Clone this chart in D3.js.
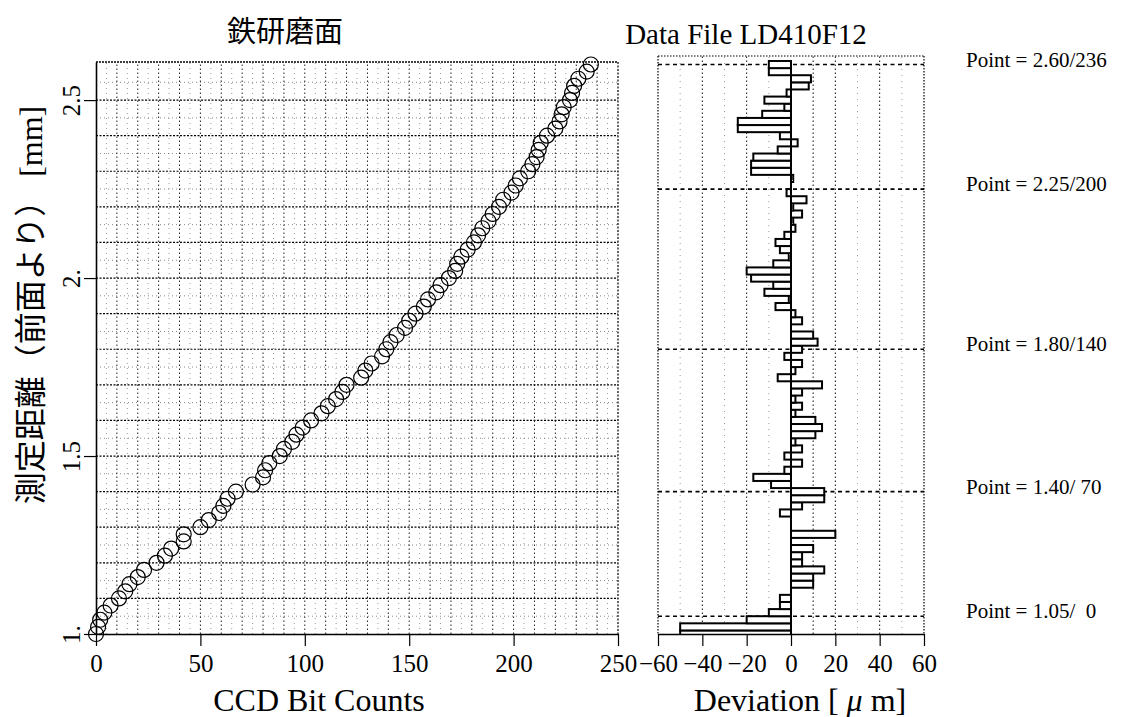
<!DOCTYPE html>
<html>
<head>
<meta charset="utf-8">
<script src="https://cdn.jsdelivr.net/npm/d3@7"></script>
<style>
  body { margin: 0; background: #fff; }
  svg { display: block; }
  text { font-family: "Liberation Serif", "Times New Roman", serif; fill: #000; }
  .jp { font-family: "Noto Sans CJK JP", sans-serif; }
</style>
</head>
<body>
<svg id="chart" width="1127" height="717"></svg>
<script>
// measured distance [mm], one step per bar
const distances = [
  1.00, 1.02, 1.04, 1.06, 1.08, 1.10, 1.12, 1.14, 1.16, 1.18,
  1.20, 1.22, 1.24, 1.26, 1.28, 1.30, 1.32, 1.34, 1.36, 1.38,
  1.40, 1.42, 1.44, 1.46, 1.48, 1.50, 1.52, 1.54, 1.56, 1.58,
  1.60, 1.62, 1.64, 1.66, 1.68, 1.70, 1.72, 1.74, 1.76, 1.78,
  1.80, 1.82, 1.84, 1.86, 1.88, 1.90, 1.92, 1.94, 1.96, 1.98,
  2.00, 2.02, 2.04, 2.06, 2.08, 2.10, 2.12, 2.14, 2.16, 2.18,
  2.20, 2.22, 2.24, 2.26, 2.28, 2.30, 2.32, 2.34, 2.36, 2.38,
  2.40, 2.42, 2.44, 2.46, 2.48, 2.50, 2.52, 2.54, 2.56, 2.58,
  2.60
];

// CCD bit count for each distance
const bitCounts = [
  0, 1, 2, 4, 7, 11, 14, 16, 20, 23,
  29, 33, 36, 42, 42, 50, 54, 59, 61, 63,
  67, 75, 80, 81, 83, 88, 90, 94, 96, 99,
  103, 108, 111, 115, 118, 120, 127, 129, 132, 137,
  139, 141, 144, 148, 150, 153, 157, 159, 163, 165,
  169, 172, 173, 175, 178, 181, 183, 185, 188, 190,
  193, 195, 199, 201, 203, 207, 209, 211, 212, 213,
  216, 220, 222, 223, 224, 227, 228, 229, 231, 235,
  237
];

// deviation [um] for each distance
const deviations = [
  -50, -50, -20, -10, -5, -5, 0, 10, 10, 15,
  5, 5, 10, 0, 20, 0, 0, -5, 5, 15,
  15, -9, -17, -3, 5, -3, 5, 2, 11, 14,
  11, 2, 5, 2, 5, 14, -6, 2, 5, -3,
  5, 12, 10, 0, 5, 2, -7, -1, -12, -8,
  -18, -20, -8, -1, -5, -7, -3, 2, 1, 5,
  1, 7, -2, 0, 1, -18, -18, -17, -6, 3,
  -5, -24, -24, -13, -3, -12, -2, 8, 9, -10,
  -10
];

const calibPoints = [2.60, 2.25, 1.80, 1.40, 1.05];
const calibLabels = ['Point = 2.60/236', 'Point = 2.25/200', 'Point = 1.80/140', 'Point = 1.40/ 70', 'Point = 1.05/  0'];

const xTicks = [0, 50, 100, 150, 200, 250];
const yTicks = [1, 1.5, 2, 2.5];
const yTickLabels = ['1.', '1.5', '2.', '2.5'];
const devTicks = [-60, -40, -20, 0, 20, 40, 60];

const svg = d3.select('#chart');

// scales
const x = d3.scaleLinear().domain([0, 250]).range([96, 618]);
const y = d3.scaleLinear().domain([1, 2.607]).range([634, 62]);
const xd = d3.scaleLinear().domain([-60, 60]).range([658, 924]);
const yd = d3.scaleLinear().domain([1, 2.624]).range([634, 56]);

/* ---------- left panel ---------- */
const gL = svg.append('g');

// minor grid
gL.append('g').selectAll('line')
  .data(d3.range(5, 250, 10))
  .join('line')
  .attr('x1', d => x(d)).attr('x2', d => x(d))
  .attr('y1', y.range()[0]).attr('y2', y.range()[1])
  .attr('stroke', '#999').attr('stroke-width', 1).attr('stroke-dasharray', '1,4');
gL.append('g').selectAll('line')
  .data(d3.range(1.05, 2.6, 0.1))
  .join('line')
  .attr('x1', x(0)).attr('x2', x(250))
  .attr('y1', d => y(d)).attr('y2', d => y(d))
  .attr('stroke', '#888').attr('stroke-width', 1).attr('stroke-dasharray', '1,3');

// major grid
gL.append('g').selectAll('line')
  .data(d3.range(10, 250, 10))
  .join('line')
  .attr('x1', d => x(d)).attr('x2', d => x(d))
  .attr('y1', y.range()[0]).attr('y2', y.range()[1])
  .attr('stroke', '#222').attr('stroke-width', 1).attr('stroke-dasharray', '1.5,2.5');
gL.append('g').selectAll('line')
  .data(d3.range(1.1, 2.6, 0.1))
  .join('line')
  .attr('x1', x(0)).attr('x2', x(250))
  .attr('y1', d => y(d)).attr('y2', d => y(d))
  .attr('stroke', '#000').attr('stroke-width', 1.2).attr('stroke-dasharray', '2,1.5');

// frame top / right
gL.append('line')
  .attr('x1', x(0)).attr('x2', x(250)).attr('y1', y.range()[1]).attr('y2', y.range()[1])
  .attr('stroke', '#000').attr('stroke-width', 1.3).attr('stroke-dasharray', '2,1');
gL.append('line')
  .attr('x1', x(250)).attr('x2', x(250)).attr('y1', y.range()[1]).attr('y2', y.range()[0])
  .attr('stroke', '#000').attr('stroke-width', 1.2).attr('stroke-dasharray', '2,1.5');

// points
gL.append('g').selectAll('circle')
  .data(d3.zip(bitCounts, distances))
  .join('circle')
  .attr('cx', d => x(d[0]))
  .attr('cy', d => y(d[1]))
  .attr('r', 7.5)
  .attr('fill', 'none')
  .attr('stroke', '#000')
  .attr('stroke-width', 1.2);

// axes
const xAxis = gL.append('g')
  .attr('transform', `translate(0,${y(1)})`)
  .call(d3.axisBottom(x).tickValues(xTicks).tickSize(12).tickSizeOuter(0).tickPadding(8));
const yAxis = gL.append('g')
  .attr('transform', `translate(${x(0)},0)`)
  .call(d3.axisLeft(y).tickValues(yTicks).tickSize(12).tickSizeOuter(0)
    .tickFormat((d, i) => yTickLabels[i]));
yAxis.selectAll('text')
  .attr('x', null).attr('dy', null)
  .attr('text-anchor', 'middle')
  .attr('transform', 'translate(-16,0) rotate(-90)');

/* ---------- right panel ---------- */
const gR = svg.append('g');

svg.append('clipPath').attr('id', 'clipR')
  .append('rect')
  .attr('x', xd(-60)).attr('y', yd.range()[1])
  .attr('width', xd(60) - xd(-60)).attr('height', yd.range()[0] - yd.range()[1]);

gR.append('g').selectAll('line')
  .data([-50, -30, -10, 30, 50])
  .join('line')
  .attr('x1', d => xd(d)).attr('x2', d => xd(d))
  .attr('y1', yd.range()[0]).attr('y2', yd.range()[1])
  .attr('stroke', '#999').attr('stroke-width', 1).attr('stroke-dasharray', '1,5');
gR.append('g').selectAll('line')
  .data([-40, -20, 10, 20, 40])
  .join('line')
  .attr('x1', d => xd(d)).attr('x2', d => xd(d))
  .attr('y1', yd.range()[0]).attr('y2', yd.range()[1])
  .attr('stroke', '#111').attr('stroke-width', 1).attr('stroke-dasharray', '1.5,2.5');

// frame
gR.append('line')
  .attr('x1', xd(-60)).attr('x2', xd(60)).attr('y1', yd.range()[1]).attr('y2', yd.range()[1])
  .attr('stroke', '#000').attr('stroke-width', 1.2).attr('stroke-dasharray', '1.5,1.5');
gR.selectAll('.edge')
  .data([-60, 60])
  .join('line')
  .attr('class', 'edge')
  .attr('x1', d => xd(d)).attr('x2', d => xd(d))
  .attr('y1', yd.range()[1]).attr('y2', yd.range()[0])
  .attr('stroke', '#000').attr('stroke-width', 1.2).attr('stroke-dasharray', '1.5,1.5');

// calibration markers
gR.append('g').selectAll('line')
  .data(calibPoints)
  .join('line')
  .attr('x1', xd(-60)).attr('x2', xd(60))
  .attr('y1', d => yd(d)).attr('y2', d => yd(d))
  .attr('stroke', '#000').attr('stroke-width', 1.6).attr('stroke-dasharray', '4,3.5');

// deviation bars
gR.append('g').attr('clip-path', 'url(#clipR)')
  .selectAll('rect')
  .data(d3.zip(distances, deviations))
  .join('rect')
  .attr('x', d => xd(Math.min(0, d[1])))
  .attr('width', d => Math.abs(xd(d[1]) - xd(0)))
  .attr('y', d => yd(d[0] + 0.01))
  .attr('height', d => yd(d[0] - 0.01) - yd(d[0] + 0.01))
  .attr('fill', '#fff')
  .attr('stroke', '#000')
  .attr('stroke-width', 2);

gR.append('line')
  .attr('x1', xd(0)).attr('x2', xd(0))
  .attr('y1', yd(1)).attr('y2', yd(d3.max(distances) + 0.01))
  .attr('stroke', '#000').attr('stroke-width', 2);

const dAxis = gR.append('g')
  .attr('transform', `translate(0,${yd(1)})`)
  .call(d3.axisBottom(xd).tickValues(devTicks).tickSize(12).tickSizeOuter(0).tickPadding(8));

[xAxis, yAxis, dAxis].forEach(a => {
  a.attr('font-family', null).attr('font-size', null);
  a.select('.domain').attr('stroke-width', 1.6);
  a.selectAll('.tick line').attr('stroke-width', 1.2);
  a.selectAll('text').style('font-size', '25px');
});

// calibration labels
svg.append('g').selectAll('text')
  .data(calibPoints)
  .join('text')
  .attr('x', 966)
  .attr('y', d => yd(d) + 2)
  .attr('xml:space', 'preserve')
  .style('white-space', 'pre')
  .style('font-size', '21px')
  .text((d, i) => calibLabels[i]);

/* ---------- titles ---------- */
svg.append('text')
  .attr('class', 'jp')
  .attr('x', 285).attr('y', 42)
  .attr('text-anchor', 'middle')
  .style('font-size', '29px')
  .text('鉄研磨面');

svg.append('text')
  .attr('x', 746).attr('y', 44)
  .attr('text-anchor', 'middle')
  .style('font-size', '29px')
  .text('Data File LD410F12');

svg.append('text')
  .attr('x', 319).attr('y', 711)
  .attr('text-anchor', 'middle')
  .style('font-size', '32px')
  .text('CCD Bit Counts');

const devTitle = svg.append('text')
  .attr('x', 800).attr('y', 711)
  .attr('text-anchor', 'middle')
  .attr('xml:space', 'preserve')
  .style('white-space', 'pre')
  .style('font-size', '32px');
devTitle.append('tspan').text('Deviation [ ');
devTitle.append('tspan').style('font-style', 'italic').text('μ');
devTitle.append('tspan').text(' m]');

const yTitle = svg.append('text')
  .attr('transform', 'translate(42,305) rotate(-90)')
  .attr('text-anchor', 'middle')
  .style('font-size', '32px');
yTitle.append('tspan').attr('class', 'jp').text('測定距離（前面より）');
yTitle.append('tspan').text(' [mm]');
</script>
</body>
</html>
